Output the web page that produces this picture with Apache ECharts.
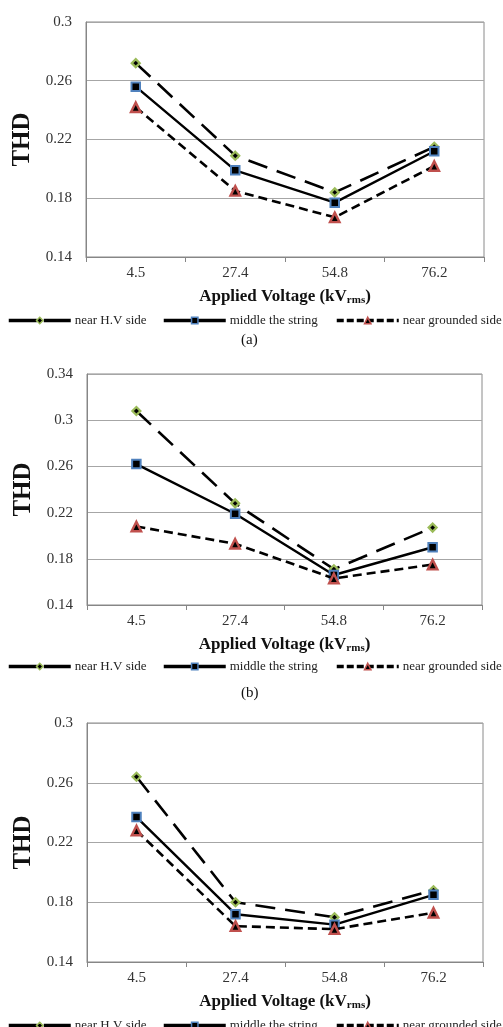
<!DOCTYPE html>
<html>
<head>
<meta charset="utf-8">
<script src="https://cdn.jsdelivr.net/npm/echarts@6/dist/echarts.min.js"></script>
<style>
html,body{margin:0;padding:0;background:#fff;}
#main{width:503px;height:1027px;}
</style>
</head>
<body>
<div id="main"></div>
<script>
var categories = ['4.5', '27.4', '54.8', '76.2'];
var seriesNames = ['near H.V side', 'middle the string', 'near grounded side'];

var a_hv  = [0.272, 0.209, 0.184, 0.215];
var a_mid = [0.256, 0.199, 0.177, 0.212];
var a_gnd = [0.242, 0.185, 0.167, 0.202];

var b_hv  = [0.308, 0.228, 0.171, 0.207];
var b_mid = [0.262, 0.219, 0.166, 0.190];
var b_gnd = [0.208, 0.193, 0.163, 0.175];

var c_hv  = [0.264, 0.180, 0.170, 0.188];
var c_mid = [0.237, 0.172, 0.165, 0.185];
var c_gnd = [0.228, 0.164, 0.162, 0.173];

var yRanges = [[0.14, 0.30], [0.14, 0.34], [0.14, 0.30]];
var yStep = 0.04;
var panelLabels = ['(a)', '(b)'];

var FONT = '"Liberation Serif", "Times New Roman", serif';
var grids = [
  {left: 86, top: 22, width: 398, height: 235},
  {left: 87, top: 374, width: 395, height: 231},
  {left: 87, top: 723, width: 396, height: 239}
];
var legendTops = [314, 660, 1019];
var legendLefts = [7, 162, 335];

var chart = echarts.init(document.getElementById('main'), null, {renderer: 'canvas'});

var styles = [
  {symbol: 'diamond', size: 8, border: '#9BBB59', bw: 2.2, dash: [20, 10], lw: 2.6, legDash: [28, 7]},
  {symbol: 'rect', size: 8.5, border: '#4F81BD', bw: 2, dash: 'solid', lw: 2.4, legDash: 'solid'},
  {symbol: 'triangle', size: 9.5, border: '#C0504D', bw: 2.4, dash: [9, 5], lw: 2.6, legDash: [7, 3]}
];
var dataSets = [[a_hv, a_mid, a_gnd], [b_hv, b_mid, b_gnd], [c_hv, c_mid, c_gnd]];

var xAxes = [], yAxes = [], series = [], legends = [];
grids.forEach(function (g, i) {
  g.show = true; g.borderColor = '#8a8a8a'; g.borderWidth = 1; g.containLabel = false;
  xAxes.push({
    type: 'category', gridIndex: i, data: categories, boundaryGap: true,
    axisLine: {lineStyle: {color: '#868686', width: 1}},
    axisTick: {show: true, length: 5, lineStyle: {color: '#868686'}},
    axisLabel: {fontFamily: FONT, fontSize: 15, color: '#333', margin: 9},
    name: '{b|Applied Voltage (kV}{s|rms}{b|)}',
    nameLocation: 'middle', nameGap: 30,
    nameTextStyle: {
      rich: {
        b: {fontFamily: FONT, fontSize: 17, fontWeight: 'bold', color: '#111'},
        s: {fontFamily: FONT, fontSize: 11, fontWeight: 'bold', color: '#111', padding: [8, 0, 0, 0]}
      }
    }
  });
  yAxes.push({
    type: 'value', gridIndex: i, min: yRanges[i][0], max: yRanges[i][1], interval: yStep,
    axisLine: {show: true, lineStyle: {color: '#868686'}},
    axisTick: {show: false},
    splitLine: {lineStyle: {color: '#a6a6a6', width: 1}},
    axisLabel: {fontFamily: FONT, fontSize: 15, color: '#333', margin: 14,
      formatter: function (v) { return String(+v.toFixed(2)); }},
    name: 'THD', nameLocation: 'middle', nameGap: 49,
    nameTextStyle: {fontFamily: FONT, fontSize: 25, fontWeight: 'bold', color: '#111'}
  });
  dataSets[i].forEach(function (d, k) {
    var s = styles[k];
    series.push({
      name: seriesNames[k], type: 'line', xAxisIndex: i, yAxisIndex: i, data: d,
      symbol: s.symbol, symbolSize: s.size, showAllSymbol: true,
      lineStyle: {color: '#000', width: s.lw, type: s.dash},
      itemStyle: {color: '#000', borderColor: s.border, borderWidth: s.bw},
      z: 3 + k, animation: false
    });
  });
  seriesNames.forEach(function (n, k) {
    legends.push({
      data: [n], left: legendLefts[k], top: legendTops[i], orient: 'horizontal',
      itemWidth: 62, itemHeight: 8, itemGap: 0, padding: 0, selectedMode: false,
      lineStyle: {width: 3.5, type: styles[k].legDash, color: '#000'},
      itemStyle: {borderWidth: 1.5},
      textStyle: {fontFamily: FONT, fontSize: 13, color: '#222', padding: [0, 0, 0, -1]}
    });
  });
});

var graphics = panelLabels.map(function (t, i) {
  return {
    type: 'text', left: 241, top: i === 0 ? 333 : 686,
    style: {text: t, font: '15px ' + FONT, fill: '#111'}
  };
});

chart.setOption({
  animation: false,
  grid: grids, xAxis: xAxes, yAxis: yAxes, series: series,
  legend: legends, graphic: graphics
});
</script>
</body>
</html>
